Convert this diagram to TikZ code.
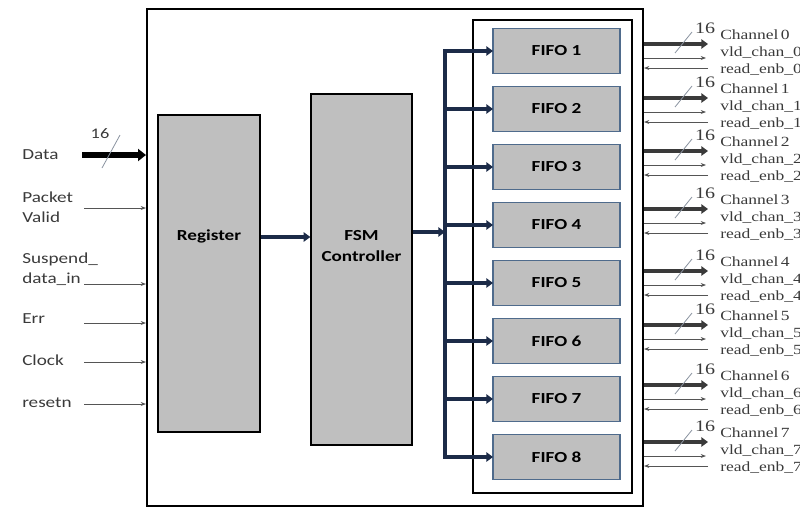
\documentclass[tikz,border=0pt]{standalone}
\usepackage{fontspec}
\setsansfont{Carlito}[FakeStretch=1.25]
\newfontfamily\chanfont{Liberation Serif}[FakeStretch=1.25]
\usetikzlibrary{positioning, arrows.meta, fit, calc}
\definecolor{blkgray}{HTML}{BFBFBF}
\definecolor{fifoedge}{HTML}{4F6B8C}
\definecolor{busnavy}{HTML}{1C2B48}
\definecolor{sigray}{HTML}{555555}
\definecolor{slashgray}{HTML}{8A93A0}
\definecolor{txtgray}{HTML}{3A3A3A}

\begin{document}
\begin{tikzpicture}[
      x=0.75pt, y=-0.75pt,
      every node/.style={font=\sffamily\fontsize{11.5}{15}\selectfont},
      block/.style={draw, line width=1pt, fill=blkgray, inner sep=0},
      frame/.style={draw, inner sep=0},
      fifo/.style={draw=fifoedge, line width=1.2pt, fill=blkgray, outer sep=0,
                   minimum width=95.25pt, minimum height=33.75pt,
                   font=\sffamily\bfseries\fontsize{11.5}{14}\selectfont},
      boxtxt/.style={align=center, font=\sffamily\bfseries\fontsize{11.5}{16}\selectfont},
      inlbl/.style={anchor=west, align=left, inner sep=0, text=txtgray},
      chan/.style={anchor=north west, align=left, inner sep=0, text=txtgray,
                   font=\chanfont\fontsize{10.5}{12.4}\selectfont},
      wnum/.style={inner sep=0, text=txtgray, font=\chanfont\fontsize{12}{12}\selectfont},
      bus/.style={line width=3.5pt, draw=busnavy},
      datain/.style={line width=4pt, -{Triangle[length=6pt,width=9pt]}},
      chout/.style={line width=3pt, draw=txtgray, -{Triangle[length=5pt,width=7pt]}},
      sig/.style={line width=0.6pt, draw=sigray, -{Stealth[length=4pt,width=3pt]}},
      slash/.style={line width=0.6pt, draw=slashgray},
    ]
    \useasboundingbox (0,0) rectangle (800,508);

    % top level block and FIFO bank
    \node[frame, line width=1.5pt, fit={(147,9) (643,506)}] (top) {};
    \node[frame, line width=1.2pt, fit={(473,20) (632,493)}] (bank) {};

    \node[block, fit={(158,115) (260,432)}] (reg) {};
    \node[boxtxt] (regtxt) at (reg.center |- 0,236) {Register};
    \node[block, fit={(311,94) (412,445)}] (fsm) {};
    \node[boxtxt] (fsmtxt) at (fsm.center |- 0,246) {FSM\\Controller};

    \node[fifo] (f1) at (556.5,51) {FIFO 1};
    \foreach \i [remember=\i as \j (initially 1)] in {2,...,8}
      \node[fifo, below=9.75pt of f\j] (f\i) {FIFO \i};

    % internal buses
    \coordinate (bx) at (445,232);
    \draw[bus, line cap=rect] (f1.west -| bx) -- (f8.west -| bx);
    \foreach \i in {1,...,8}
      \draw[bus, -{Triangle[length=5pt,width=7pt]}] (f\i.west -| bx) -- (f\i.west);
    \draw[bus, -{Triangle[length=5pt,width=7pt]}] (reg.east |- 0,237) -- (fsm.west |- 0,237);
    \draw[bus, -{Triangle[length=5pt,width=7pt]}] (fsm.east |- bx) -- (bx);

    % inputs
    \node[inlbl] (data) at (22,155) {Data};
    \node[inlbl] (pv) at (22,207) {Packet\\Valid};
    \node[inlbl] (susp) at (22,269) {Suspend\_\\data\_in};
    \node[inlbl] (err) at (22,319) {Err};
    \node[inlbl] (clk) at (22,360) {Clock};
    \node[inlbl] (rst) at (22,403) {resetn};

    \coordinate (datain) at (82,155);
    \draw[datain] (datain) -- (datain -| top.west);
    \draw[slash] (102,168) -- (120,135);
    \node[inner sep=0, text=txtgray, font=\sffamily\fontsize{11}{11}\selectfont] (dw) at (100,134) {16};

    \coordinate (pvin) at (84,208);
    \coordinate (suspin) at (84,284);
    \coordinate (errin) at (84,323);
    \coordinate (clkin) at (84,362);
    \coordinate (rstin) at (84,404);
    \foreach \c in {pvin, suspin, errin, clkin, rstin}
      \draw[sig] (\c) -- (\c -| top.west);

    % output channels
    \foreach \i/\y in {0/44, 1/98, 2/151, 3/209, 4/271, 5/325, 6/385, 7/442} {
      \coordinate (co\i) at (708,\y);
      \coordinate (vo\i) at (706,\y+14);
      \coordinate (ri\i) at (708,\y+24);
      \draw[chout] (co\i -| top.east) -- (co\i);
      \draw[sig] (vo\i -| top.east) -- (vo\i);
      \draw[sig] (ri\i) -- (ri\i -| top.east);
      \draw[slash] ([shift={(-33,9)}]co\i) -- ([shift={(-16,-12)}]co\i);
      \node[wnum] (w\i) at ([shift={(-3,-16)}]co\i) {16};
      \node[chan] (ch\i) at ([shift={(12,-14)}]co\i)
        {Channel\,\i\\vld\_chan\_\i\\read\_enb\_\i};
    }
  \end{tikzpicture}
\end{document}
